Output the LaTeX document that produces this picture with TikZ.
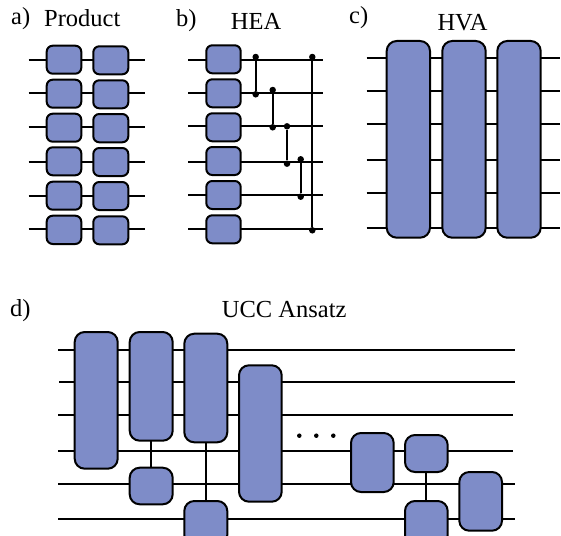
\documentclass[tikz,border=0pt]{standalone}
\usepackage{fontspec}
\setmainfont{Liberation Serif}
\definecolor{gatefill}{HTML}{7E8CC8}
\tikzset{
  gatebox/.style={draw=black,fill=gatefill,line width=2pt,inner sep=0pt,outer sep=0pt,rounded corners=6pt},
  tallbox/.style={gatebox,rounded corners=10pt},
  wire/.style={line width=2pt,black},
  link/.style={line width=2pt,black},
  ctrl/.style={circle,fill=black,inner sep=0pt,outer sep=0pt,minimum size=6.5pt},
  smalldot/.style={circle,fill=black,inner sep=0pt,outer sep=0pt,minimum size=4.5pt},
  lab/.style={anchor=base west,inner sep=0pt,font=\fontsize{24.5}{24.5}\selectfont}
}
% name, x1, y1, x2, y2, style
\newcommand{\gatenode}[6]{\node[#6,minimum width={(#4-#2)*1pt},minimum height={(#5-#3)*1pt}] (#1) at ({(#2+#4)/2},{(#3+#5)/2}) {};}
% name, x1, x2, y
\newcommand{\wirepath}[4]{\coordinate (#1l) at (#2,#4); \coordinate (#1r) at (#3,#4); \draw[wire] (#1l) -- (#1r);}
\begin{document}
\begin{tikzpicture}[x=1pt,y=-1pt]
\useasboundingbox (0,0) rectangle (561,535);
\clip (0,0) rectangle (561,535);
% labels
\node[lab] (la) at (11,25) {a)};
\node[lab] (lp) at (44,26.7) {Product};
\node[lab] (lb) at (176,26.7) {b)};
\node[lab] (lh) at (230.7,30) {HEA};
\node[lab] (lc) at (349,23.3) {c)};
\node[lab] (lv) at (437.3,30.7) {HVA};
\node[lab] (ld) at (10,316) {d)};
\node[lab] (lu) at (221.7,317.7) {UCC Ansatz};
% a) product
\wirepath{a1}{28.7}{144.7}{60.3}
\wirepath{a2}{28.7}{144.7}{93.3}
\wirepath{a3}{28.7}{144.7}{126.7}
\wirepath{a4}{28.7}{144.7}{162.3}
\wirepath{a5}{28.7}{144.7}{195.7}
\wirepath{a6}{28.7}{144.7}{229.3}
\gatenode{ga1}{46.7}{45.7}{81.3}{73.7}{gatebox}
\gatenode{ga2}{46.7}{79.7}{81.3}{107.7}{gatebox}
\gatenode{ga3}{46.7}{113.7}{81.3}{141.7}{gatebox}
\gatenode{ga4}{46.7}{147.3}{81.3}{175.3}{gatebox}
\gatenode{ga5}{46.7}{181.7}{81.3}{209.7}{gatebox}
\gatenode{ga6}{46.7}{215.7}{81.3}{244}{gatebox}
\gatenode{ha1}{93.3}{46.3}{128.3}{74.3}{gatebox}
\gatenode{ha2}{93.3}{80.3}{128.3}{108.3}{gatebox}
\gatenode{ha3}{93.3}{114}{128.3}{142.3}{gatebox}
\gatenode{ha4}{93.3}{148}{128.3}{176}{gatebox}
\gatenode{ha5}{93.3}{182}{128.3}{210}{gatebox}
\gatenode{ha6}{93.3}{216.3}{128.3}{244.3}{gatebox}
% b) HEA
\wirepath{b1}{188.3}{323.3}{60.3}
\wirepath{b2}{188.3}{323.3}{93}
\wirepath{b3}{188.3}{323.3}{126}
\wirepath{b4}{188.3}{323.3}{162}
\wirepath{b5}{188.3}{323.3}{195}
\wirepath{b6}{188.3}{323.3}{229.3}
\gatenode{gb1}{206.3}{45.3}{240.7}{73.3}{gatebox}
\gatenode{gb2}{206.3}{79.3}{240.7}{107.3}{gatebox}
\gatenode{gb3}{206.3}{113.3}{240.7}{141.3}{gatebox}
\gatenode{gb4}{206.3}{147}{240.7}{175}{gatebox}
\gatenode{gb5}{206.3}{181}{240.7}{209}{gatebox}
\gatenode{gb6}{206.3}{215.3}{240.7}{243.3}{gatebox}
\node[ctrl] (c1a) at (255.7,57) {};
\node[ctrl] (c1b) at (255.7,94.3) {};
\node[ctrl] (c2a) at (272.7,90) {};
\node[ctrl] (c2b) at (272.7,127.3) {};
\node[ctrl] (c3a) at (287,126.3) {};
\node[ctrl] (c3b) at (287,163.7) {};
\node[ctrl] (c4a) at (300.7,159.3) {};
\node[ctrl] (c4b) at (300.7,196.7) {};
\node[ctrl] (c5a) at (312.3,57) {};
\node[ctrl] (c5b) at (312.3,230.3) {};
\draw[link] (c1a) -- (c1b);
\draw[link] (c2a) -- (c2b);
\draw[link] (c3a) -- (c3b);
\draw[link] (c4a) -- (c4b);
\draw[link] (c5a) -- (c5b);
% c) HVA
\wirepath{c1}{366.7}{560}{58.3}
\wirepath{c2}{366.7}{560}{91.3}
\wirepath{c3}{366.7}{560}{124.3}
\wirepath{c4}{366.7}{560}{160.3}
\wirepath{c5}{366.7}{560}{193.3}
\wirepath{c6}{366.7}{560}{227.7}
\gatenode{gc1}{386.7}{41}{430}{237.7}{tallbox}
\gatenode{gc2}{442.3}{41}{485.7}{237.7}{tallbox}
\gatenode{gc3}{497.3}{41}{540.7}{237.7}{tallbox}
% d) UCC
\wirepath{d1}{58.3}{515}{349.7}
\wirepath{d2}{59}{514.5}{382.3}
\wirepath{d3}{58.3}{513}{415.3}
\wirepath{d4}{58.3}{513}{451}
\wirepath{d5}{58.3}{514.5}{484.3}
\wirepath{d6}{58.3}{515}{518.7}
\gatenode{gA}{74.7}{332}{117.7}{468.7}{tallbox}
\gatenode{gB}{129.7}{332}{172.7}{440.7}{tallbox}
\gatenode{gC}{129.7}{467.7}{172.7}{504.3}{tallbox}
\gatenode{gD}{184.3}{333.7}{227.3}{442.3}{tallbox}
\gatenode{gE}{184.3}{501}{227.3}{545}{tallbox}
\gatenode{gF}{239}{365.3}{281.7}{501.7}{tallbox}
\gatenode{gG}{351}{433}{393.7}{492}{tallbox}
\gatenode{gH}{405}{435}{447.7}{472}{tallbox}
\gatenode{gI}{405}{501}{447.7}{545}{tallbox}
\gatenode{gJ}{459.3}{472}{502}{530.7}{tallbox}
\draw[link] (gB.south) -- (gC.north);
\draw[link] (gD.south) -- (gE.north);
\draw[link] (gH.south) -- (gI.north);
\node[smalldot] (e1) at (299.3,435.7) {};
\node[smalldot] (e2) at (316.3,435.7) {};
\node[smalldot] (e3) at (333.3,435.7) {};
\end{tikzpicture}
\end{document}
